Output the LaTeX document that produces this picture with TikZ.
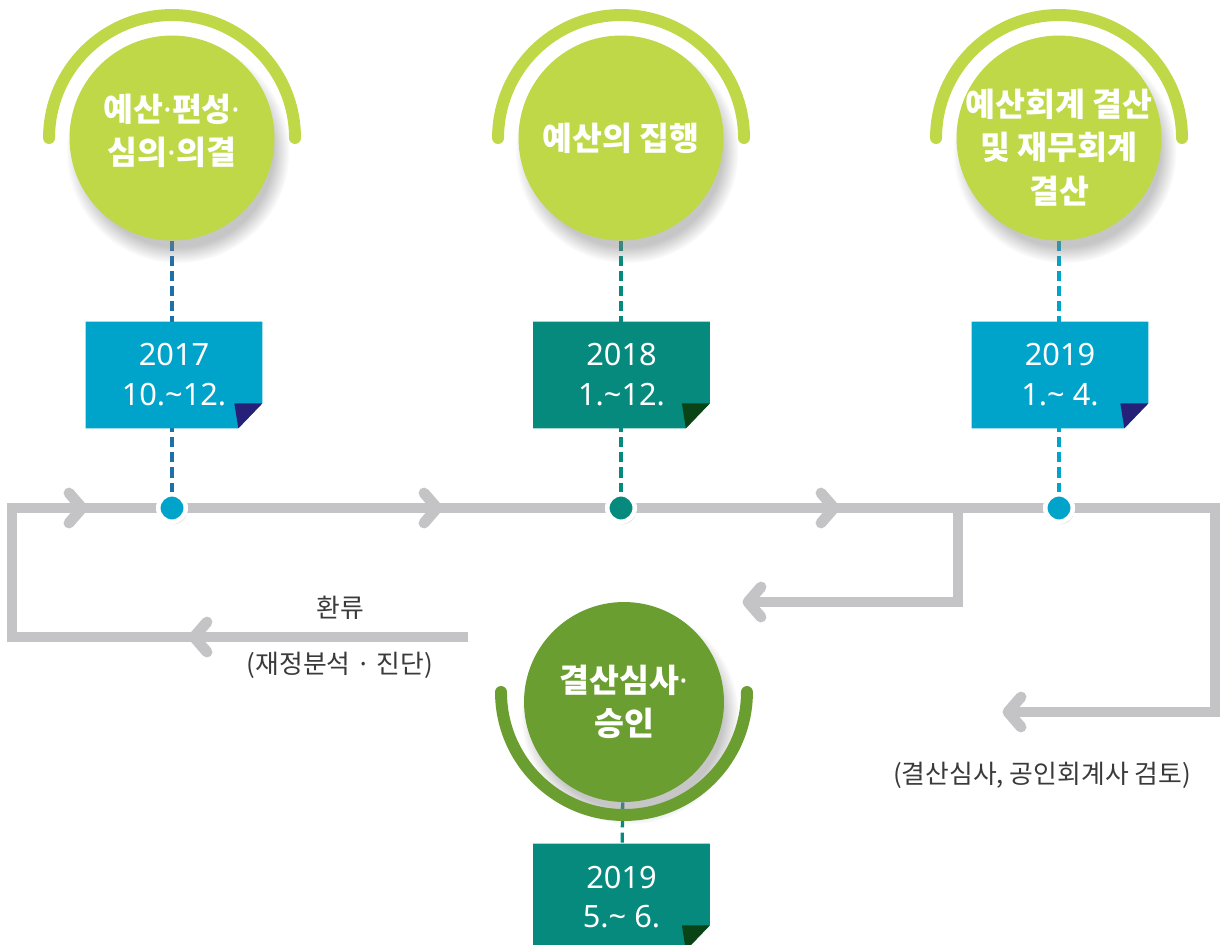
\documentclass[tikz,border=0pt]{standalone}
\usepackage{fontspec}
\setmainfont{Noto Sans CJK KR}
\newfontfamily\numfont{Noto Sans}
\usetikzlibrary{shadows, backgrounds}

\definecolor{stagelime}{HTML}{BED848}
\definecolor{stagegreen}{HTML}{6B9E31}
\definecolor{notesky}{HTML}{00A3C9}
\definecolor{notenavy}{HTML}{262078}
\definecolor{noteteal}{HTML}{068A7D}
\definecolor{noteforest}{HTML}{0A4416}
\definecolor{dashblue}{HTML}{1E70A8}
\definecolor{flowgray}{HTML}{C4C4C6}
\definecolor{remarkgray}{HTML}{3A3A3A}
\newcommand{\mdot}{{\numfont·}}

\tikzset{
  stage/.style={circle, fill=#1, minimum size=4.1cm, inner sep=0pt,
    circular drop shadow={shadow xshift=3pt, shadow yshift=-7pt, shadow scale=1.09, opacity=.45}},
  stagetext/.style={text=white, align=center, font=\fontsize{18.5pt}{24.5pt}\selectfont\bfseries}
}
\tikzset{
  halo/.style={draw=#1, line width=6.8pt, line cap=round},
  note/.style={minimum width=3.52cm, minimum height=2.12cm, inner sep=0pt, text=white,
    align=center, font=\numfont\fontsize{17.5pt}{22.7pt}\selectfont},
  dot/.style={circle, fill=#1, draw=white, line width=2.6pt, minimum size=0.55cm, inner sep=0pt,
    circular drop shadow={shadow xshift=0.6pt, shadow yshift=-1.2pt, shadow scale=1.05, opacity=.35}},
  link/.style={draw=#1, line width=1.9pt, dash pattern=on 5.7pt off 2.9pt}
}
\tikzset{
  flow/.style={draw=flowgray, line width=6.2pt},
  flowtip/.style={draw=flowgray, line width=6.2pt, line cap=round, line join=round},
  remark/.style={text=remarkgray, font=\fontsize{14.7pt}{17pt}\selectfont},
  chev/.pic={\draw[flowtip] (-13,15) -- (0,0) -- (-13,-15);}
}

\begin{document}
\begin{tikzpicture}[x=0.02cm, y=0.02cm]
  \useasboundingbox (0,0) rectangle (1221,-944);
  % stages
  \node[stage=stagelime, label={[stagetext, yshift=4pt]center:예산\mdot 편성\mdot\\심의\mdot 의결}] (c1) at (172,-138) {};
  \node[stage=stagelime, label={[stagetext]center:예산의 집행}] (c2) at (621,-138) {};
  \node[stage=stagelime, label={[stagetext, yshift=-5.5pt]center:예산회계 결산\\및 재무회계\\결산}] (c3) at (1059,-138) {};
  \node[stage=stagegreen, minimum size=4.0cm, label={[stagetext]center:결산심사\mdot\\승인}] (c4) at (624,-702) {};
  \draw[halo=stagelime] ([shift={(123,0)}]c1.center) arc[start angle=0, end angle=180, radius=2.46cm];
  \draw[halo=stagelime] ([shift={(123,0)}]c2.center) arc[start angle=0, end angle=180, radius=2.46cm];
  \draw[halo=stagelime] ([shift={(123,0)}]c3.center) arc[start angle=0, end angle=180, radius=2.46cm];
  \draw[halo=stagegreen] ([shift={(-123,10)}]c4.center) arc[start angle=180, end angle=360, radius=2.46cm];
  % periods
  \node[note] (n1) at (174,-375) {2017\\10.\textasciitilde12.};
  \node[note] (n2) at (621.5,-375) {2018\\1.\textasciitilde12.};
  \node[note] (n3) at (1060,-375) {2019\\1.\textasciitilde{} 4.};
  \node[note] (n4) at (621.5,-897) {2019\\5.\textasciitilde{} 6.};
  % timeline dots
  \node[dot=notesky] (d1) at (172,-508) {};
  \node[dot=noteteal] (d2) at (621,-508) {};
  \node[dot=notesky] (d3) at (1059,-508) {};
  % flow corners
  \coordinate (fb) at (468,-637);
  \coordinate (lb) at (12,-637);
  \coordinate (lt) at (12,-508);
  \coordinate (rt) at (1215,-508);
  \coordinate (rb) at (1215,-712);
  \coordinate (audit) at (1008,-712);
  \coordinate (bt) at (958,-508);
  \coordinate (bb) at (958,-602);
  \coordinate (back) at (748,-602);
  \node[remark] (fbtop) at (340,-608) {환류};
  \node[remark] (fbbot) at (340,-665) {(재정분석 · 진단)};
  \node[remark] (audittext) at (1042,-775) {(결산심사, 공인회계사 검토)};
  \begin{scope}[on background layer]
    \draw[flow] (fb) -- (lb) -- (lt) -- (rt) -- (rb) -- (audit);
    \draw[flow] (bt) -- (bb) -- (back);
    \pic at (82,-508) {chev};
    \pic at (437,-508) {chev};
    \pic at (834,-508) {chev};
    \pic[rotate=180] at (194,-637) {chev};
    \pic[rotate=180] at (back) {chev};
    \pic[rotate=180] at (audit) {chev};
    % dashed drops
    \draw[link=dashblue] (c1) -- (d1);
    \draw[link=noteteal] (c2) -- (d2);
    \draw[link=notesky] (c3) -- (d3);
    \draw[link=noteteal] (c4) -- (n4);
    % folded notes
    \foreach \n/\c/\f in {n1/notesky/notenavy, n2/noteteal/noteforest, n3/notesky/notenavy, n4/noteteal/noteforest} {
      \fill[\c] (\n.north west) -- (\n.north east) -- ([yshift=0.5cm]\n.south east)
        -- ([xshift=-0.48cm]\n.south east) -- (\n.south west) -- cycle;
      \fill[\f] ([shift={(-0.56cm,0.5cm)}]\n.south east) -- ([yshift=0.5cm]\n.south east)
        -- ([xshift=-0.48cm]\n.south east) -- cycle;
    }
  \end{scope}
\end{tikzpicture}
\end{document}
